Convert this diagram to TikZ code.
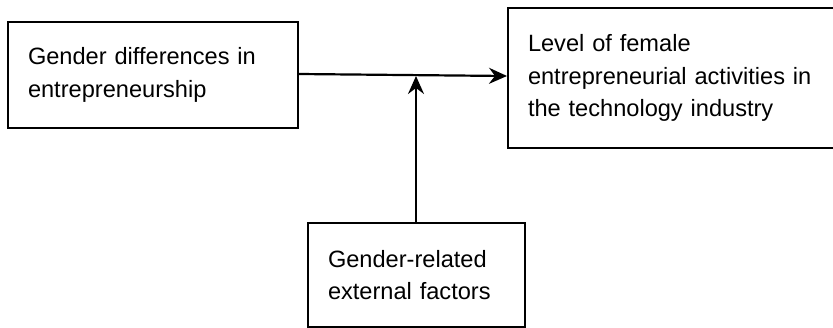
\documentclass[tikz,border=0pt]{standalone}
\usepackage{fontspec}
\setmainfont{Liberation Sans}
\usetikzlibrary{arrows.meta}
\begin{document}
\begin{tikzpicture}[x=1pt,y=-1pt,
  box/.style={draw=black, line width=2pt, rectangle, align=left,
    inner xsep=20pt, inner ysep=0pt, anchor=north west,
    font=\fontsize{23.6}{32.5}\selectfont},
  link/.style={draw=black, line width=2.2pt,
    -{Stealth[length=18pt,width=16pt,inset=6pt]}}]
  \useasboundingbox (0,0) rectangle (833,327);
  % factor boxes
  \node[box, text width=250pt, minimum height=106pt] (diff) at (7,21)
    {Gender differences in\\entrepreneurship};
  \node[box, text width=296pt, minimum height=140pt] (level) at (507,7)
    {Level of female\\entrepreneurial activities in\\the technology industry};
  \node[box, text width=177pt, minimum height=104pt] (ext) at (307,222)
    {Gender-related\\external factors};
  % main effect and moderating effect
  \draw[link] (diff.east |- 0,74) -- (level.west |- 0,76);
  \draw[link] (ext.north -| 416,0) -- (416,76);
\end{tikzpicture}
\end{document}
